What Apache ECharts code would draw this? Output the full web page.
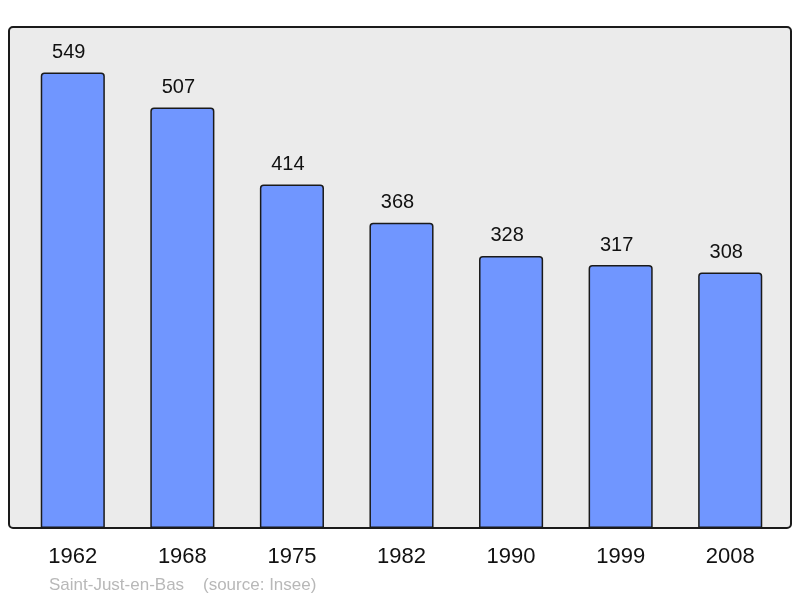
<!DOCTYPE html>
<html><head><meta charset="utf-8">
<script src="https://cdn.jsdelivr.net/npm/echarts@6/dist/echarts.min.js"></script>
<style>html,body{margin:0;padding:0;background:#fff}#c{width:800px;height:598px}</style>
</head><body><div id="c"></div>
<script>
var categories = ['1962','1968','1975','1982','1990','1999','2008'];
var population = [549, 507, 414, 368, 328, 317, 308];
var caption = 'Saint-Just-en-Bas    (source: Insee)';

var chart = echarts.init(document.getElementById('c'), null, {renderer:'canvas'});
chart.setOption({
  animation: false,
  backgroundColor: '#ffffff',
  grid: {left: 18, right: 15, top: 27, bottom: 70},
  graphic: [
    {type:'rect', z: -1, shape:{x:9, y:27, width:782, height:501, r:4},
     style:{fill:'#ebebeb', stroke:'#1a1a1a', lineWidth:2}},
    {type:'text', left: 49, top: 577,
     style:{text: caption, fill:'#b8b8b8', font:'17px "Liberation Sans", Arial, sans-serif'}}
  ],
  xAxis: {
    type:'category', data: categories,
    axisLine:{show:false}, axisTick:{show:false},
    axisLabel:{color:'#111', fontSize:22, fontFamily:'"Liberation Sans", Arial, sans-serif', margin:18}
  },
  yAxis: {type:'value', min:0, max:604, show:false, splitLine:{show:false}},
  series: [{
    type:'bar', data: population, barWidth:'58.5%',
    itemStyle:{color:'#7096ff', borderColor:'#1a1a1a', borderWidth:1.5, borderRadius:[3,3,0,0]},
    label:{show:true, position:'top', distance:10, offset:[-4,0], color:'#111', fontSize:20,
           fontFamily:'"Liberation Sans", Arial, sans-serif'}
  }]
});
</script></body></html>
